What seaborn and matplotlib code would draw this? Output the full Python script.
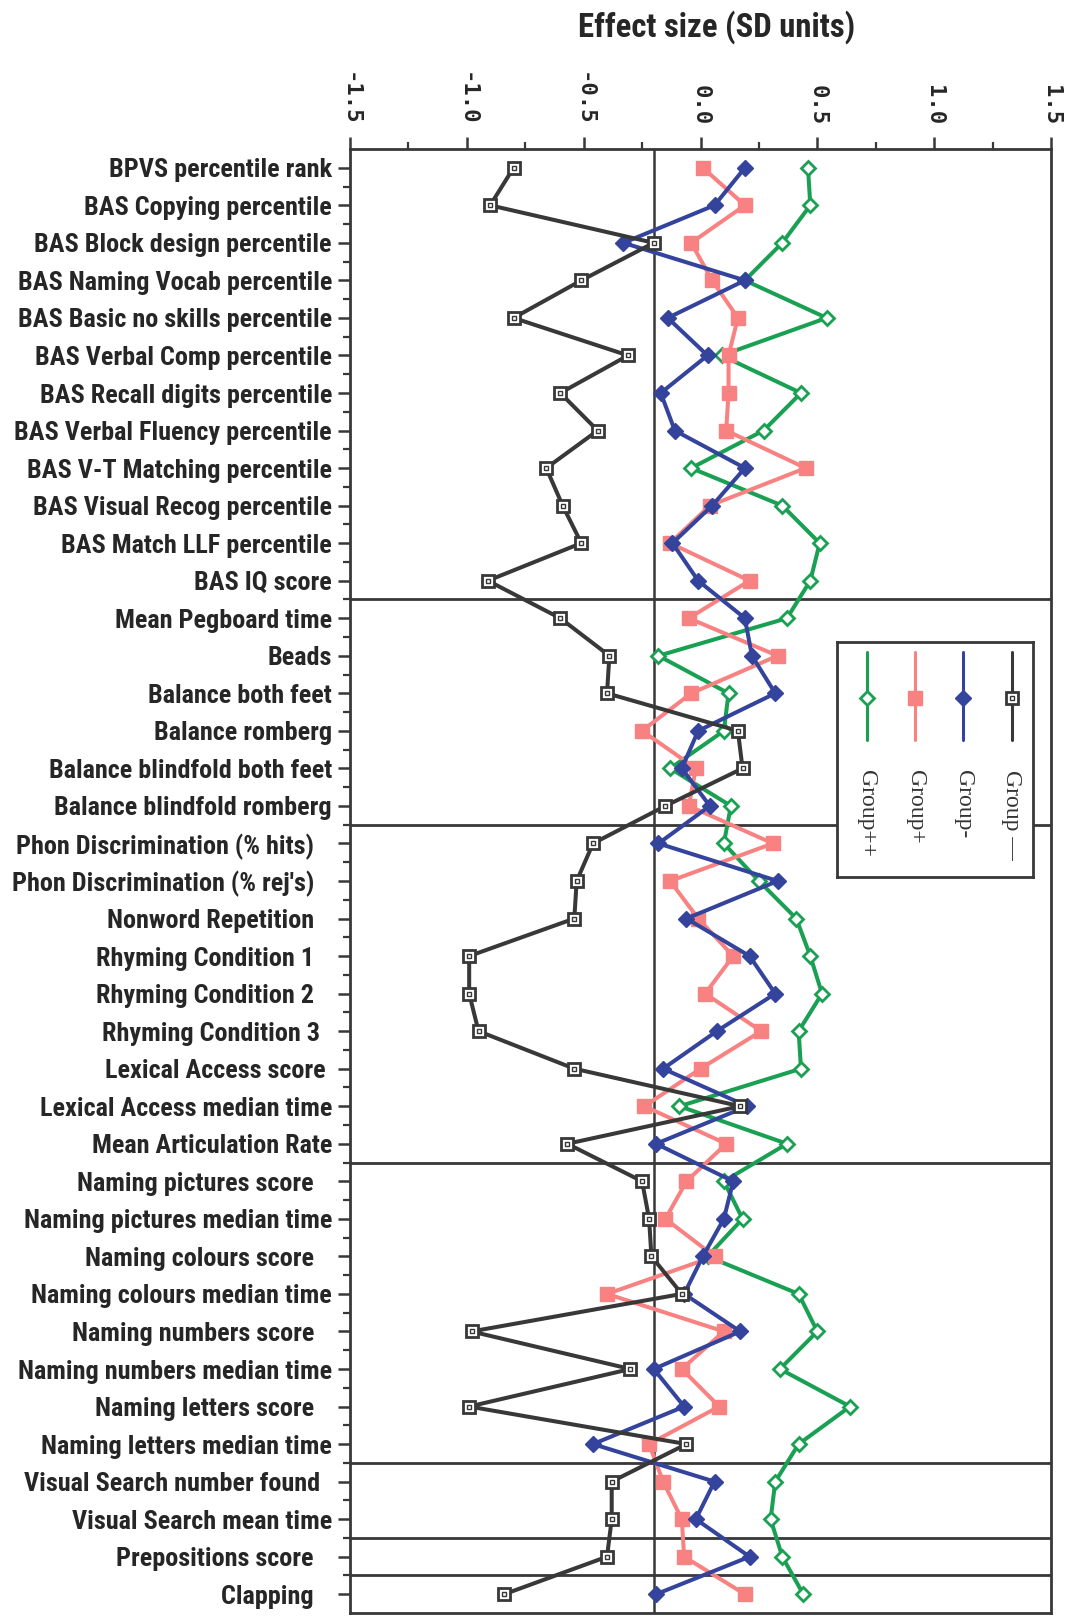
import numpy as np
import pandas as pd
import matplotlib
matplotlib.use("Agg")
import matplotlib.pyplot as plt
from matplotlib.ticker import FixedLocator, MultipleLocator
import seaborn as sns

# =========================
# 1. data
# =========================
measures = [
    "BPVS percentile rank", "BAS Copying percentile", "BAS Block design percentile",
    "BAS Naming Vocab percentile", "BAS Basic no skills percentile",
    "BAS Verbal Comp percentile", "BAS Recall digits percentile",
    "BAS Verbal Fluency percentile", "BAS V-T Matching percentile",
    "BAS Visual Recog percentile", "BAS Match LLF percentile", "BAS IQ score",
    "Mean Pegboard time", "Beads", "Balance both feet", "Balance romberg",
    "Balance blindfold both feet", "Balance blindfold romberg",
    "Phon Discrimination (% hits)   ", "Phon Discrimination (% rej's)   ",
    "Nonword Repetition   ", "Rhyming Condition 1   ", "Rhyming Condition 2   ",
    "Rhyming Condition 3  ", "Lexical Access score ", "Lexical Access median time",
    "Mean Articulation Rate", "Naming pictures score   ", "Naming pictures median time",
    "Naming colours score   ", "Naming colours median time", "Naming numbers score   ",
    "Naming numbers median time", "Naming letters score   ", "Naming letters median time",
    "Visual Search number found  ", "Visual Search mean time",
    "Prepositions score   ", "Clapping   ",
]

group_mm = [-0.80, -0.90, -0.20, -0.51, -0.80, -0.31, -0.60, -0.44, -0.66, -0.59,
            -0.51, -0.91, -0.60, -0.39, -0.40, 0.16, 0.18, -0.15, -0.46, -0.53,
            -0.54, -0.99, -0.99, -0.95, -0.54, 0.17, -0.57, -0.25, -0.22, -0.21,
            -0.08, -0.98, -0.30, -0.99, -0.06, -0.38, -0.38, -0.40, -0.84]
group_m = [0.19, 0.06, -0.33, 0.19, -0.14, 0.03, -0.17, -0.11, 0.19, 0.05,
           -0.12, -0.01, 0.19, 0.22, 0.32, -0.01, -0.08, 0.04, -0.18, 0.33,
           -0.06, 0.21, 0.32, 0.07, -0.16, 0.20, -0.19, 0.14, 0.10, 0.01,
           -0.07, 0.17, -0.20, -0.07, -0.46, 0.06, -0.02, 0.21, -0.19]
group_p = [0.01, 0.19, -0.04, 0.05, 0.16, 0.12, 0.12, 0.11, 0.45, 0.04,
           -0.13, 0.21, -0.05, 0.33, -0.04, -0.25, -0.02, -0.05, 0.31, -0.13,
           -0.01, 0.14, 0.02, 0.26, 0.00, -0.24, 0.11, -0.06, -0.15, 0.06,
           -0.40, 0.10, -0.08, 0.08, -0.22, -0.16, -0.08, -0.07, 0.19]
group_pp = [0.46, 0.47, 0.35, 0.19, 0.54, 0.09, 0.43, 0.27, -0.04, 0.35,
            0.51, 0.47, 0.37, -0.18, 0.12, 0.10, -0.13, 0.13, 0.10, 0.25,
            0.41, 0.47, 0.52, 0.42, 0.43, -0.09, 0.37, 0.10, 0.18, 0.03,
            0.42, 0.50, 0.34, 0.64, 0.42, 0.32, 0.30, 0.35, 0.44]

group_names = ["Group \u2014", "Group-", "Group+", "Group++"]
section_breaks = [11.5, 17.5, 26.5, 34.5, 36.5, 37.5]
ref_line = -0.2

# =========================
# 2. styles
# =========================
dark = "#383838"
styles = {
    "Group \u2014": dict(color=dark, marker="s", markersize=8.5, markerfacecolor="white",
                         markeredgecolor=dark, markeredgewidth=2.0),
    "Group-": dict(color="#34449c", marker="D", markersize=8, markerfacecolor="#34449c",
                   markeredgecolor="#34449c", markeredgewidth=1.0),
    "Group+": dict(color="#f88282", marker="s", markersize=9.5, markerfacecolor="#f88282",
                   markeredgecolor="#f88282", markeredgewidth=1.0),
    "Group++": dict(color="#19a052", marker="D", markersize=7, markerfacecolor="white",
                    markeredgecolor="#19a052", markeredgewidth=2.0),
}

sns.set_style("ticks")
label_font = ["Roboto Condensed", "DejaVu Sans Condensed", "Liberation Sans Narrow",
              "Liberation Sans", "DejaVu Sans"]
plt.rcParams["font.family"] = label_font

pos = np.arange(len(measures))
df = pd.DataFrame({
    "pos": np.tile(pos, 4),
    "effect": group_mm + group_m + group_p + group_pp,
    "group": np.repeat(group_names, len(measures)),
})

fig = plt.figure(figsize=(10.72, 16.16), dpi=100)
ax = fig.add_axes([350 / 1072, 3 / 1616, 701 / 1072, 1464 / 1616])

# =========================
# 3. lines
# =========================
for g in ["Group++", "Group+", "Group-", "Group \u2014"]:
    sub = df[df["group"] == g]
    sns.lineplot(data=sub, x="effect", y="pos", orient="y", sort=False,
                 estimator=None, linewidth=2.9, ax=ax, **styles[g])

# inner dot of the open black squares
ax.plot(group_mm, pos, linestyle="none", marker="s", markersize=3,
        markerfacecolor="none", markeredgecolor=dark, markeredgewidth=1.0)

ax.axvline(ref_line, color=dark, lw=1.8, zorder=1)
for yb in section_breaks:
    ax.axhline(yb, color=dark, lw=2.0, zorder=1)

# =========================
# 4. axes
# =========================
ax.set_xlim(-1.5, 1.5)
ax.set_ylim(len(measures) - 0.5, -0.5)
ax.xaxis.tick_top()
ax.set_xticks([-1.5, -1.0, -0.5, 0.0, 0.5, 1.0, 1.5])
ax.set_xticklabels(["-1.5", "-1.0", "-0.5", "0.0", "0.5", "1.0", "1.5"],
                   rotation=-90, fontsize=16, fontweight="bold",
                   family=["DejaVu Sans Mono"])
ax.xaxis.set_minor_locator(MultipleLocator(0.25))
ax.set_yticks(pos)
ax.set_yticklabels(measures, fontsize=15, fontweight="bold", family=label_font)
ax.yaxis.set_minor_locator(FixedLocator(pos[:-1] + 0.5))
ax.set_xlabel("")
ax.set_ylabel("")

ax.tick_params(axis="x", which="major", length=9, width=1.8, pad=8, color=dark,
               top=True, bottom=False)
ax.tick_params(axis="x", which="minor", length=5, width=1.6, color=dark,
               top=True, bottom=False)
ax.tick_params(axis="y", which="major", length=9, width=1.8, pad=4, color=dark)
ax.tick_params(axis="y", which="minor", length=5, width=1.6, color=dark)
for s in ax.spines.values():
    s.set_visible(True)
    s.set_color(dark)
    s.set_linewidth(2.0)

title = fig.text(717 / 1072, 1 - 27 / 1616, "Effect size (SD units)", ha="center",
                 va="center", fontsize=20, fontweight="bold", family=label_font)

# fit label sizes to the widths of the original
fig.canvas.draw()
rend = fig.canvas.get_renderer()
ylabels = ax.get_yticklabels()
ref_w = ylabels[7].get_window_extent(rend).width
new_size = 15 * 318 / ref_w
for t in ylabels:
    t.set_fontsize(new_size)
tw = title.get_window_extent(rend).width
title.set_fontsize(20 * 277 / tw)

# =========================
# 5. legend (rotated entries)
# =========================
lax = fig.add_axes([837 / 1072, 1 - 877 / 1616, 196 / 1072, 235 / 1616])
lax.set_xlim(0, 196)
lax.set_ylim(235, 0)
lax.set_xticks([])
lax.set_yticks([])
lax.set_facecolor("white")
for s in lax.spines.values():
    s.set_color(dark)
    s.set_linewidth(2.0)
legend_x = [174.7, 126.3, 78, 29.7]
for g, lx in zip(group_names, legend_x):
    st = dict(styles[g])
    lax.plot([lx, lx], [10, 98], color=st.pop("color"), lw=2.2)
    lax.plot([lx], [56], linestyle="none", **st)
    if g == "Group \u2014":
        lax.plot([lx], [56], linestyle="none", marker="s", markersize=3,
                 markerfacecolor="none", markeredgecolor=dark, markeredgewidth=1.0)
    lax.text(lx, 128, g, rotation=-90, ha="center", va="top", fontsize=17,
             family=["Liberation Serif", "DejaVu Serif"], color="#333333")

fig.savefig("out.png", dpi=100)
